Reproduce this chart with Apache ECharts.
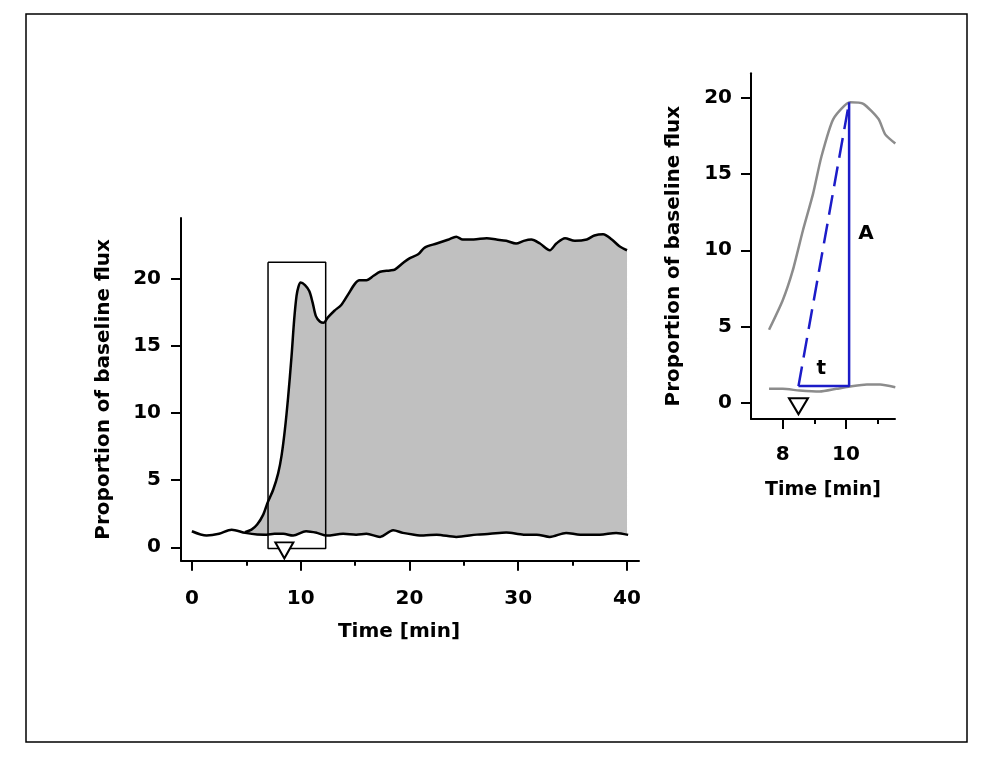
<!DOCTYPE html>
<html><head><meta charset="utf-8">
<script src="https://cdn.jsdelivr.net/npm/echarts@6/dist/echarts.min.js"></script>
<style>html,body{margin:0;background:#fff}#c{width:1003px;height:761px}</style>
</head><body><div id="c"></div>
<script>
// ---- tick labels ----
const mainXTicksMajor = [0, 10, 20, 30, 40];
const mainXTicksMinor = [5, 15, 25, 35];
const mainYTicks = [0, 5, 10, 15, 20];
const insetXTicksMajor = [8, 10];
const insetXTicksMinor = [9, 11];
const insetYTicks = [0, 5, 10, 15, 20];

// ---- main panel data: [time min, proportion of baseline flux] ----
const controlFlux = [
  [0,1.19],[1.35,0.87],[2.5,1.0],[3.65,1.31],[4.9,1.07],[6.0,0.95],[6.86,0.94],[7.6,1.0],[8.4,1.0],
  [9.3,0.87],[10.5,1.19],[11.5,1.07],[12.4,0.87],[13.9,1.0],[15.1,0.94],[16.05,1.0],[17.3,0.77],
  [18.5,1.26],[19.4,1.07],[20.3,0.95],[21.3,0.87],[22.5,0.94],[24.3,0.77],[26.2,0.94],[27.4,1.0],
  [28.9,1.1],[30.5,0.94],[31.7,0.94],[32.9,0.77],[34.4,1.07],[35.7,0.94],[37.5,0.94],[39.0,1.07],[40.1,0.92]
];
const treatedFlux = [
  [4.87,1.12],[5.48,1.31],[6.0,1.69],[6.56,2.43],[6.95,3.3],[7.48,4.3],[7.93,5.5],[8.24,6.8],
  [8.55,8.75],[8.85,11.2],[9.16,14.2],[9.4,16.9],[9.62,18.7],[9.8,19.4],[10.0,19.7],[10.4,19.5],[10.8,19.05],
  [11.1,18.2],[11.4,17.2],[11.76,16.8],[12.1,16.7],[12.5,17.1],[13.1,17.6],[13.75,18.05],[14.35,18.8],
  [14.98,19.6],[15.4,19.87],[16.05,19.87],[16.7,20.2],[17.3,20.5],[18.2,20.6],[18.65,20.66],[19.4,21.15],
  [20.0,21.5],[20.8,21.8],[21.4,22.3],[22.5,22.6],[23.6,22.9],[24.3,23.1],[24.9,22.9],[25.9,22.9],
  [27.1,23.0],[28.0,22.9],[28.9,22.8],[29.8,22.6],[30.5,22.8],[31.2,22.9],[32.0,22.6],[32.9,22.1],
  [33.5,22.6],[34.3,23.0],[35.2,22.8],[36.3,22.9],[37.0,23.2],[37.8,23.3],[38.6,22.9],[39.3,22.4],[40.0,22.1]
];
const zoomBox = [[7.0,21.2],[12.3,21.2],[12.3,-0.1],[7.0,-0.1],[7.0,21.2]];
const injectionMain = [[8.5,-0.23]];

// ---- inset panel data ----
const insetTreated = [
  [7.57,4.79],[8.0,6.71],[8.32,8.68],[8.64,11.3],[8.96,13.7],[9.22,16.1],[9.6,18.6],
  [10.13,19.7],[10.55,19.6],[11.03,18.6],[11.24,17.6],[11.56,17.0]
];
const insetControl = [
  [7.57,0.92],[8.0,0.92],[8.53,0.81],[9.17,0.74],[9.7,0.92],[10.13,1.07],[10.66,1.2],[11.08,1.2],[11.56,1.03]
];
const riseLegs = [[8.5,1.1],[10.1,1.1],[10.1,19.7]];
const riseSlope = [[8.5,1.1],[10.1,19.7]];
const injectionInset = [[8.5,-0.22]];
const insetLabels = [{name:'A', value:[10.63,11.1]}, {name:'t', value:[9.22,2.26]}];

const FONT = 'DejaVu Sans';
const txt = {fontFamily: FONT, fontWeight: 'bold', fontSize: 20, color: '#000'};
const blk = {color: '#000', width: 2};
const tri = 'path://M0,0L20,0L10,18Z';

const chart = echarts.init(document.getElementById('c'), null, {renderer: 'canvas'});
chart.setOption({
  animation: false,
  backgroundColor: '#fff',
  graphic: [{type: 'rect', shape: {x: 26, y: 14, width: 941, height: 728},
             style: {fill: 'none', stroke: '#000', lineWidth: 1.5}, z: 100}],
  grid: [
    {left: 181, top: 218, width: 458, height: 342.7},
    {left: 751, top: 73.3, width: 144, height: 345.6}
  ],
  xAxis: [
    {gridIndex: 0, type: 'value', min: -1, max: 41.1, position: 'bottom', z: 10,
     axisLine: {show: true, onZero: false, lineStyle: blk},
     axisTick: {show: true, customValues: mainXTicksMajor, length: 10, lineStyle: blk},
     axisLabel: {customValues: mainXTicksMajor, margin: 28, ...txt},
     splitLine: {show: false},
     name: 'Time [min]', nameLocation: 'middle', nameGap: 61,
     nameTextStyle: {...txt, padding: [0, 22, 0, 0]}},
    {gridIndex: 0, type: 'value', min: -1, max: 41.1, position: 'bottom', offset: 0, z: 10,
     axisLine: {show: false, onZero: false},
     axisTick: {show: true, customValues: mainXTicksMinor, length: 5, lineStyle: blk},
     axisLabel: {show: false}, splitLine: {show: false}},
    {gridIndex: 1, type: 'value', min: 7, max: 11.55, position: 'bottom', z: 10,
     axisLine: {show: true, onZero: false, lineStyle: blk},
     axisTick: {show: true, customValues: insetXTicksMajor, length: 10, lineStyle: blk},
     axisLabel: {customValues: insetXTicksMajor, margin: 26, ...txt},
     splitLine: {show: false},
     name: 'Time [min]', nameLocation: 'middle', nameGap: 62, nameTextStyle: {...txt, fontSize: 19}},
    {gridIndex: 1, type: 'value', min: 7, max: 11.55, position: 'bottom', offset: 0, z: 10,
     axisLine: {show: false, onZero: false},
     axisTick: {show: true, customValues: insetXTicksMinor, length: 5, lineStyle: blk},
     axisLabel: {show: false}, splitLine: {show: false}}
  ],
  yAxis: [
    {gridIndex: 0, type: 'value', min: -1, max: 24.5, z: 10,
     axisLine: {show: true, onZero: false, lineStyle: blk},
     axisTick: {show: true, customValues: mainYTicks, length: 10, lineStyle: blk},
     axisLabel: {customValues: mainYTicks, margin: 20, ...txt},
     splitLine: {show: false},
     name: 'Proportion of baseline flux', nameLocation: 'middle', nameGap: 67, nameTextStyle: txt},
    {gridIndex: 1, type: 'value', min: -1.05, max: 21.6, z: 10,
     axisLine: {show: true, onZero: false, lineStyle: blk},
     axisTick: {show: true, customValues: insetYTicks, length: 10, lineStyle: blk},
     axisLabel: {customValues: insetYTicks, margin: 19, ...txt},
     splitLine: {show: false},
     name: 'Proportion of baseline flux', nameLocation: 'middle', nameGap: 67,
     nameTextStyle: {...txt, padding: [0, 20, 0, 0]}}
  ],
  series: [
    {type: 'line', xAxisIndex: 0, yAxisIndex: 0, data: treatedFlux, smooth: 0.3, showSymbol: false,
     lineStyle: {width: 0, opacity: 0}, areaStyle: {color: '#c0c0c0', opacity: 1, origin: 'start'}, z: 2},
    {type: 'line', xAxisIndex: 0, yAxisIndex: 0, data: controlFlux, smooth: 0.3, showSymbol: false,
     lineStyle: {width: 0, opacity: 0}, areaStyle: {color: '#fff', opacity: 1, origin: 'start'}, z: 3},
    {type: 'line', xAxisIndex: 0, yAxisIndex: 0, data: zoomBox, showSymbol: false,
     lineStyle: {color: '#000', width: 1.5}, z: 4},
    {type: 'line', xAxisIndex: 0, yAxisIndex: 0, data: controlFlux, smooth: 0.3, showSymbol: false,
     lineStyle: {color: '#000', width: 2.5}, z: 5},
    {type: 'line', xAxisIndex: 0, yAxisIndex: 0, data: treatedFlux, smooth: 0.3, showSymbol: false,
     lineStyle: {color: '#000', width: 2.5}, z: 5},
    {type: 'scatter', xAxisIndex: 0, yAxisIndex: 0, data: injectionMain, symbol: tri, symbolSize: [18, 16],
     itemStyle: {color: '#fff', borderColor: '#000', borderWidth: 2, opacity: 1}, z: 12},
    {type: 'line', xAxisIndex: 2, yAxisIndex: 1, data: insetTreated, smooth: 0.2, showSymbol: false,
     lineStyle: {color: '#8c8c8c', width: 2.5}, z: 3},
    {type: 'line', xAxisIndex: 2, yAxisIndex: 1, data: insetControl, smooth: 0.2, showSymbol: false,
     lineStyle: {color: '#8c8c8c', width: 2.5}, z: 3},
    {type: 'line', xAxisIndex: 2, yAxisIndex: 1, data: riseLegs, showSymbol: false,
     lineStyle: {color: '#1c1cc8', width: 2.5}, z: 5},
    {type: 'line', xAxisIndex: 2, yAxisIndex: 1, data: riseSlope, showSymbol: false,
     lineStyle: {color: '#1c1cc8', width: 2.5, type: [20, 9]}, z: 5},
    {type: 'scatter', xAxisIndex: 2, yAxisIndex: 1, data: injectionInset, symbol: tri, symbolSize: [19, 16],
     itemStyle: {color: '#fff', borderColor: '#000', borderWidth: 2, opacity: 1}, z: 12},
    {type: 'scatter', xAxisIndex: 2, yAxisIndex: 1, data: insetLabels, symbolSize: 0,
     itemStyle: {color: '#000', opacity: 1},
     label: {show: true, position: [0, 0], align: 'center', verticalAlign: 'middle',
             formatter: p => p.name, textBorderWidth: 0, ...txt}, z: 6}
  ]
});
</script></body></html>
